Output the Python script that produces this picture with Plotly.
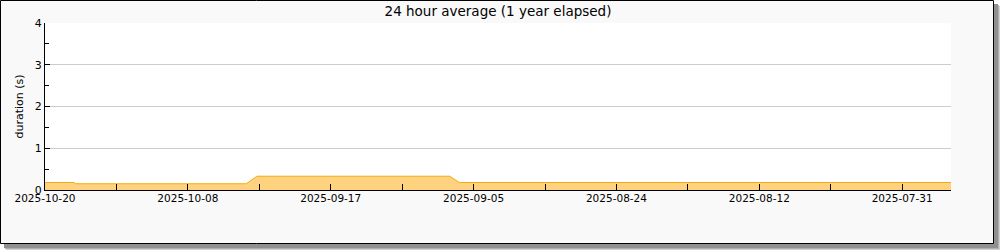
import plotly.graph_objects as go

# ---- data ----
days_ago = [0, 2.45, 2.5, 16.9, 17.8, 34.0, 34.8, 76.1]
duration_s = [0.18, 0.18, 0.15, 0.15, 0.33, 0.33, 0.18, 0.18]
x_tick_vals = [0, 12, 24, 36, 48, 60, 72]
x_tick_text = ["2025-10-20", "2025-10-08", "2025-09-17", "2025-09-05",
               "2025-08-24", "2025-08-12", "2025-07-31"]
x_minor_vals = [6, 18, 30, 42, 54, 66]
y_tick_vals = [0, 1, 2, 3, 4]
y_minor_vals = [0.5, 1.5, 2.5, 3.5]
title_text = "24 hour average (1 year elapsed)"
y_title = "duration (s)"

W, H = 1000, 250
L, R, T, B = 45, 951, 23, 190


def px(x):
    return (x - L) / (R - L)


def py(y):
    return (B - y) / (B - T)


fig = go.Figure()
fig.add_trace(go.Scatter(
    x=days_ago, y=duration_s, mode="lines", fill="tozeroy",
    line=dict(color="rgb(245,170,20)", width=1),
    fillcolor="rgb(255,210,128)", hoverinfo="skip", showlegend=False,
))

shapes = []
# shadow
for off, col in [(6, "#d0d0d0"), (5, "#b0b0b0"), (4, "#909090")]:
    shapes.append(dict(type="rect", xref="paper", yref="paper", layer="below",
                       x0=px(off), y0=py(H - (6 - off)),
                       x1=px(W - (6 - off)), y1=py(off),
                       line=dict(width=0), fillcolor=col))
# frame
shapes.append(dict(type="rect", xref="paper", yref="paper", layer="below",
                   x0=px(0.5), y0=py(243.5), x1=px(993.5), y1=py(0.5),
                   line=dict(color="black", width=1), fillcolor="#f9f9f9"))
# plot background
shapes.append(dict(type="rect", xref="paper", yref="paper", layer="below",
                   x0=0, y0=0, x1=1, y1=1, line=dict(width=0), fillcolor="white"))

fig.update_layout(
    width=W, height=H,
    margin=dict(l=L, r=W - R, t=T, b=H - B, pad=0),
    paper_bgcolor="white", plot_bgcolor="white",
    font=dict(family="DejaVu Sans", size=11, color="black"),
    title=dict(text=title_text, x=0.5, xref="paper", xanchor="center",
               y=1 - 11.5 / H, yref="container", yanchor="middle",
               font=dict(size=13.5, family="DejaVu Sans", color="black")),
    shapes=shapes,
    hovermode=False,
    showlegend=False,
)
fig.update_xaxes(
    range=[0, 76.1], tickmode="array", tickvals=x_tick_vals, ticktext=x_tick_text,
    ticks="inside", ticklen=6, tickcolor="black", tickwidth=1,
    showline=True, linecolor="black", linewidth=1, showgrid=False, zeroline=False,
    tickfont=dict(size=10.5), ticklabelstandoff=-2,
    minor=dict(tickmode="array", tickvals=x_minor_vals, ticks="inside", ticklen=6,
               tickcolor="black", showgrid=False),
)
fig.update_yaxes(
    range=[0, 4], tickmode="array", tickvals=y_tick_vals,
    ticks="inside", ticklen=5, tickcolor="black", tickwidth=1,
    showline=True, linecolor="black", linewidth=1,
    showgrid=True, gridcolor="#cccccc", gridwidth=1, zeroline=False,
    tickfont=dict(size=11),
    title=dict(text=y_title, font=dict(size=11), standoff=8),
    minor=dict(tickmode="array", tickvals=y_minor_vals, ticks="inside",
               ticklen=4, tickcolor="black", showgrid=False),
)

fig.write_html("out.html")
